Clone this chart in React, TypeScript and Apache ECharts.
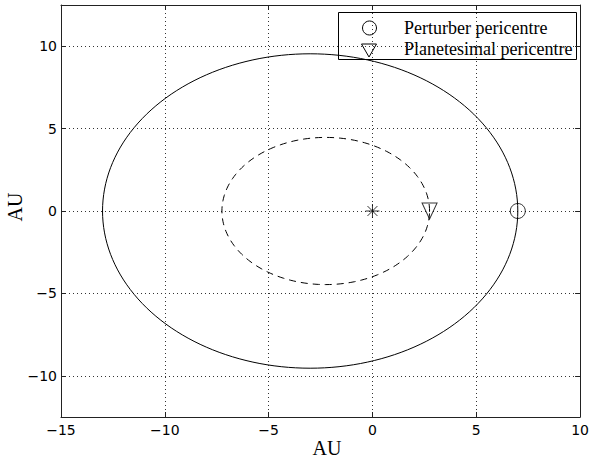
import React, { useEffect, useRef } from "react";
import * as echarts from "echarts";

// Orbital elements (focus at the origin, pericentre on +x)
const orbitNames = ["Perturber orbit", "Planetesimal orbit"];
const semiMajorAxes = [10, 5]; // AU
const eccentricities = [0.3, 0.45];
const legendNames = ["Perturber pericentre", "Planetesimal pericentre"];
const centralStar = [0, 0];

const xTicks = [-15, -10, -5, 0, 5, 10];
const yTicks = [-10, -5, 0, 5, 10];
const xRange = [-15, 10];
const yRange = [-12.5, 12.5];

const anomalyStepsDeg = Array.from({ length: 181 }, (_, i) => i * 2);

function orbitPoints(a: number, e: number): number[][] {
  const b = a * Math.sqrt(1 - e * e);
  return anomalyStepsDeg.map((d) => {
    const E = (d * Math.PI) / 180;
    return [a * (Math.cos(E) - e), b * Math.sin(E)];
  });
}

const minus = (v: number) => String(v).replace("-", "\u2212");

const TRI = "path://M0,0L20,0L10,21Z";
const STAR =
  "path://M10,0L10,20M0,10L20,10M2.93,2.93L17.07,17.07M2.93,17.07L17.07,2.93";

export default function App() {
  const ref = useRef<HTMLDivElement>(null);
  useEffect(() => {
    if (!ref.current) return;
    const chart = echarts.init(ref.current, undefined, { renderer: "svg" });
    const frameColor = "#222";
    const tickFont = { fontFamily: "DejaVu Sans", fontSize: 14, color: "#000" };
    const serif = "Liberation Serif";
    const baseX = {
      type: "value" as const,
      min: xRange[0],
      max: xRange[1],
      axisLine: { show: true, onZero: false, lineStyle: { color: frameColor, width: 1 } },
      axisTick: { show: true, inside: true, length: 5, customValues: xTicks, lineStyle: { color: frameColor } },
    };
    const baseY = {
      type: "value" as const,
      min: yRange[0],
      max: yRange[1],
      axisLine: { show: true, onZero: false, lineStyle: { color: frameColor, width: 1 } },
      axisTick: { show: true, inside: true, length: 5, customValues: yTicks, lineStyle: { color: frameColor } },
    };
    const markerStyle = { color: "rgba(0,0,0,0)", borderColor: "#000", borderWidth: 1 };
    const option: any = {
      animation: false,
      backgroundColor: "#fff",
      grid: { left: 61, right: 9, top: 5, bottom: 45, containLabel: false },
      xAxis: [
        {
          ...baseX,
          position: "bottom",
          axisLabel: { ...tickFont, margin: 6, customValues: xTicks, formatter: (v: number) => minus(v) },
          splitLine: { show: true, lineStyle: { color: "#333", type: [1, 3], width: 1 } },
        },
        {
          ...baseX,
          position: "top",
          axisLabel: { show: false },
          splitLine: { show: false },
        },
      ],
      yAxis: [
        {
          ...baseY,
          position: "left",
          axisLabel: { ...tickFont, margin: 4, customValues: yTicks, formatter: (v: number) => minus(v) },
          splitLine: { show: true, lineStyle: { color: "#333", type: [1, 3], width: 1 } },
        },
        {
          ...baseY,
          position: "right",
          axisLabel: { show: false },
          splitLine: { show: false },
        },
      ],
      graphic: [
        {
          type: "text",
          x: 327,
          y: 448,
          style: { text: "AU", fontFamily: serif, fontSize: 20, fill: "#000", align: "center", verticalAlign: "middle" },
        },
        {
          type: "text",
          x: 15,
          y: 207,
          rotation: Math.PI / 2,
          style: { text: "AU", fontFamily: serif, fontSize: 20, fill: "#000", align: "center", verticalAlign: "middle" },
        },
        {
          type: "group",
          z: 100,
          children: [
            {
              type: "rect",
              shape: { x: 338.5, y: 12.5, width: 238, height: 47 },
              style: { fill: "#fff", stroke: "#000", lineWidth: 1 },
            },
            {
              type: "circle",
              shape: { cx: 369.5, cy: 28, r: 7 },
              style: { fill: "none", stroke: "#000", lineWidth: 1 },
            },
            {
              type: "polygon",
              shape: { points: [[361.5, 44], [376.5, 44], [369, 57]] },
              style: { fill: "none", stroke: "#000", lineWidth: 1 },
            },
            {
              type: "text",
              x: 404,
              y: 28,
              style: { text: legendNames[0], fontFamily: serif, fontSize: 18, fill: "#000", align: "left", verticalAlign: "middle" },
            },
            {
              type: "text",
              x: 404,
              y: 49,
              style: { text: legendNames[1], fontFamily: serif, fontSize: 18, fill: "#000", align: "left", verticalAlign: "middle" },
            },
          ],
        },
      ],
      series: [
        {
          name: orbitNames[0],
          type: "line",
          data: orbitPoints(semiMajorAxes[0], eccentricities[0]),
          showSymbol: false,
          smooth: false,
          lineStyle: { color: "#000", width: 1, type: "solid" },
          z: 3,
        },
        {
          name: orbitNames[1],
          type: "line",
          data: orbitPoints(semiMajorAxes[1], eccentricities[1]),
          showSymbol: false,
          smooth: false,
          lineStyle: { color: "#000", width: 1, type: [7, 5] },
          z: 3,
        },
        {
          name: "Star",
          type: "scatter",
          data: [centralStar],
          symbol: STAR,
          symbolSize: 14,
          itemStyle: markerStyle,
          z: 4,
        },
        {
          name: legendNames[0],
          type: "scatter",
          data: [[semiMajorAxes[0] * (1 - eccentricities[0]), 0]],
          symbol: "circle",
          symbolSize: 15,
          itemStyle: markerStyle,
          z: 4,
        },
        {
          name: legendNames[1],
          type: "scatter",
          data: [[semiMajorAxes[1] * (1 - eccentricities[1]), 0]],
          symbol: TRI,
          symbolSize: [15, 16],
          itemStyle: markerStyle,
          z: 4,
        },
      ],
    };
    chart.setOption(option);
    return () => chart.dispose();
  }, []);
  return (
    <div
      ref={ref}
      style={{ position: "absolute", left: 0, top: 0, width: 592, height: 462 }}
    />
  );
}
